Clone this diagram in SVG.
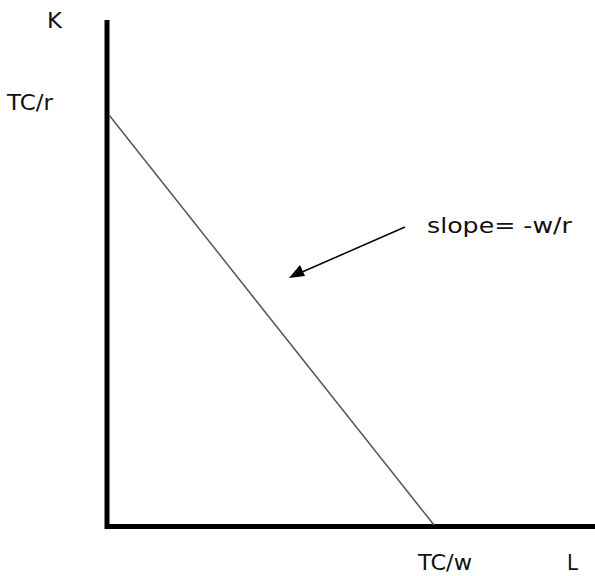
<svg xmlns="http://www.w3.org/2000/svg" width="595" height="576" viewBox="0 0 595 576">
<defs>
<style>
.t{font-family:"DejaVu Sans","Liberation Sans",sans-serif;font-size:21px;fill:#111}
.ax{stroke:#000;stroke-width:5;fill:none}
</style>
</defs>
<rect width="595" height="576" fill="#fff"/>
<g id="axes">
<path class="ax" d="M107,20 L107,526.5 L595,526.5"/>
</g>
<g id="connectors">
<line x1="109" y1="115" x2="434" y2="525" stroke="#555" stroke-width="1.5"/>
<line x1="405" y1="227" x2="293" y2="276" stroke="#000" stroke-width="1.5"/>
<path d="M289,278 L300,265 L305,276 z" fill="#000"/>
</g>
<g id="labels">
<text class="t" x="47" y="28" textLength="15" lengthAdjust="spacingAndGlyphs">K</text>
<text class="t" x="7" y="110" textLength="46" lengthAdjust="spacingAndGlyphs">TC/r</text>
<text class="t" x="427" y="233" textLength="145" lengthAdjust="spacingAndGlyphs">slope= -w/r</text>
<text class="t" x="418" y="570" textLength="54" lengthAdjust="spacingAndGlyphs">TC/w</text>
<text class="t" x="567" y="570" textLength="11" lengthAdjust="spacingAndGlyphs">L</text>
</g>
</svg>
